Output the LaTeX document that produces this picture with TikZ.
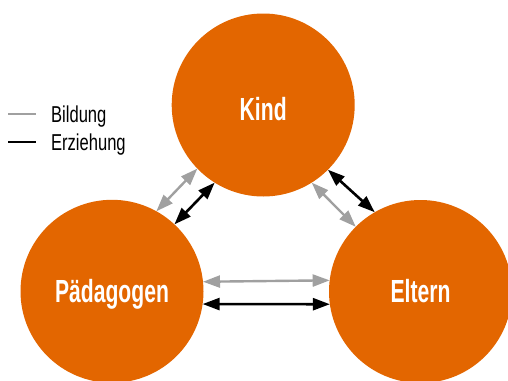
\documentclass[tikz,border=0pt]{standalone}
\usepackage{fontspec}
\setmainfont{Liberation Sans}
\usetikzlibrary{arrows.meta}
\definecolor{orng}{RGB}{227,102,0}
\definecolor{bgray}{RGB}{160,160,160}
\tikzset{
  circ/.style={circle, fill=orng, minimum size=183pt, inner sep=0pt, outer sep=0pt},
  lab/.style={anchor=base, text=white, font=\fontsize{32}{32}\selectfont\bfseries, xscale=0.66, inner sep=0pt},
  leg/.style={anchor=base west, font=\fontsize{23}{23}\selectfont, xscale=0.72, inner sep=0pt},
  bild/.style={draw=bgray, line width=2.4pt, {Triangle[length=17pt,width=12pt]}-{Triangle[length=17pt,width=12pt]}},
  erz/.style={draw=black, line width=2.6pt, {Triangle[length=17pt,width=12pt]}-{Triangle[length=17pt,width=12pt]}}
}
\begin{document}
\begin{tikzpicture}[x=1pt,y=-1pt]
\useasboundingbox (0,0) rectangle (508,380);
\clip (0,0) rectangle (508,380);
\node[circ] (K) at (263.2,105) {};
\node[circ] (P) at (112,291.3) {};
\node[circ] (E) at (420.5,291.5) {};
\node[lab] (Kt) at ([yshift=-15pt]K.center) {Kind};
\node[lab] (Pt) at ([yshift=-11.4pt]P.center) {Pädagogen};
\node[lab] (Et) at ([yshift=-11.2pt]E.center) {Eltern};
% legend
\draw[bgray, line width=2pt] (8,114) -- (36,114);
\draw[black, line width=2pt] (8,142) -- (36,142);
\node[leg] (lb) at (51,122) {Bildung};
\node[leg] (le) at (51,150) {Erziehung};
% connectors
\draw[bild] (K.224.3) -- (P.61.2);
\draw[erz] (K.238) -- (P.47.1);
\draw[bild] (K.302.1) -- (E.135.2);
\draw[erz] (K.315.9) -- (E.120.9);
\draw[bild] (P.6.65) -- (E.173.35);
\draw[erz] (P.-8.2) -- (E.188.2);
\end{tikzpicture}
\end{document}
